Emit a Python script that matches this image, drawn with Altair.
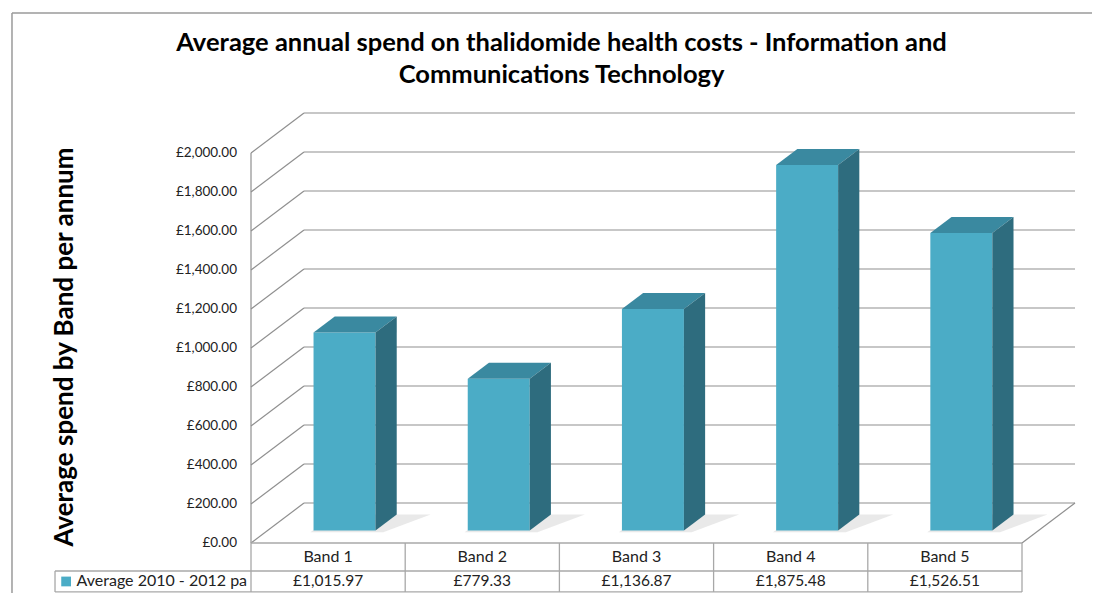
import altair as alt
import pandas as pd

# ---------------- data ----------------
bands = ["Band 1", "Band 2", "Band 3", "Band 4", "Band 5"]
spend = [1015.97, 779.33, 1136.87, 1875.48, 1526.51]
y_ticks = [0, 200, 400, 600, 800, 1000, 1200, 1400, 1600, 1800, 2000]
series_name = "Average 2010 - 2012 pa"
title_lines = ["Average annual spend on thalidomide health costs - Information and",
               "Communications Technology"]
y_title = "Average spend by Band per annum"

# ---------------- 3D projection settings (scale units) ----------------
DX = 0.3437        # wall depth along x (category units)
DY = 205.0         # wall depth along y (value units)
BAR_POS = 0.31     # bar placement inside the depth
BAR_DEPTH = 0.40   # bar thickness as share of the depth
BAR_HALF = 0.201   # half bar width (category units)
ROW1 = -143.6      # boundary between header row and value row
ROW2 = -251.0      # bottom of table
LEG_X = -1.271     # left edge of legend cell
FRAME_X = -1.55    # outer frame left edge
FRAME_Y = 2718.0   # outer frame top edge
TICK_X = -0.091    # right edge of the value-axis labels
YTITLE_X = -1.206  # centre of the value-axis title
N = len(bands)

FRONT = "#4BACC6"
TOP = "#3A89A0"
SIDE = "#2E6C7E"
GRID = "#b4b4b4"
LINE = "#8f8f8f"
TABLE = "#a8a8a8"
FONT = "Lato"

fx, fy = BAR_POS * DX, BAR_POS * DY
bx, by = BAR_DEPTH * DX, BAR_DEPTH * DY

# plot area: screen x 239..1092, y 13..593 (1 category = 154.2 px, 1 value unit = 0.195 px)
XMIN, XMAX = -12 / 154.2, 841 / 154.2
YMIN, YMAX = -50 / 0.195, 530 / 0.195
XS = alt.Scale(domain=[XMIN, XMAX], nice=False, zero=False)
YS = alt.Scale(domain=[YMIN, YMAX], nice=False, zero=False)

# bar faces
front_rows, top_rows, side_rows, shadow_rows = [], [], [], []
for i, (b, v) in enumerate(zip(bands, spend)):
    x0 = i + 0.5 - BAR_HALF + fx
    x1 = i + 0.5 + BAR_HALF + fx
    front_rows.append(dict(band=b, x0=x0, x1=x1, y0=fy, y1=v + fy))
    top_rows.append(dict(band=b, y=v + fy, xa=x0, xb=x1))
    top_rows.append(dict(band=b, y=v + fy + by, xa=x0 + bx, xb=x1 + bx))
    side_rows.append(dict(band=b, x=x1, ya=fy, yb=v + fy))
    side_rows.append(dict(band=b, x=x1 + bx, ya=fy + by, yb=v + fy + by))
    shadow_rows.append(dict(band=b, y=fy - 8, xa=x0 - 0.02, xb=x1 + 0.05))
    shadow_rows.append(dict(band=b, y=fy + by, xa=x0 + bx, xb=x1 + bx + 0.22))
front = pd.DataFrame(front_rows)
top = pd.DataFrame(top_rows)
side = pd.DataFrame(side_rows)
shadow = pd.DataFrame(shadow_rows)

# back wall grid and left-wall diagonals
grid = pd.DataFrame(dict(x=[DX] * len(y_ticks), x2=[N + DX] * len(y_ticks),
                         y=[t + DY for t in y_ticks]))
diag = pd.DataFrame(dict(x=[0.0] * len(y_ticks) + [N], x2=[DX] * len(y_ticks) + [N + DX],
                         y=list(y_ticks) + [0], y2=[t + DY for t in y_ticks] + [DY]))
axis_line = pd.DataFrame(dict(x=[0.0], y=[0.0], y2=[max(y_ticks)]))
tick_df = pd.DataFrame(dict(t=y_ticks))

# outer frame (top and left edges)
frame_h = pd.DataFrame(dict(x=[FRAME_X], x2=[XMAX + 1], y=[FRAME_Y]))
frame_v = pd.DataFrame(dict(x=[FRAME_X], y=[FRAME_Y], y2=[YMIN - 100]))

# data table lines
hlines = pd.DataFrame(dict(x=[0.0, LEG_X, LEG_X], x2=[N, N, N], y=[0.0, ROW1, ROW2]))
vlines = pd.DataFrame(dict(x=[float(i) for i in range(N + 1)] + [LEG_X],
                           y=[0.0] * (N + 1) + [ROW1], y2=[ROW2] * (N + 2)))
labels = pd.DataFrame(dict(band=bands, xc=[i + 0.5 for i in range(N)], spend=spend))
legend = pd.DataFrame(dict(name=[series_name], xs=[LEG_X + 0.072], xt=[LEG_X + 0.14],
                           y=[(ROW1 + ROW2) / 2]))
ytitle_df = pd.DataFrame(dict(name=[y_title], x=[YTITLE_X], y=[max(y_ticks) / 2 + 5]))


def X(f):
    return alt.X(f, scale=XS, axis=None)


def Y(f):
    return alt.Y(f, scale=YS, axis=None)


fr_h = alt.Chart(frame_h).mark_rule(color="#9a9a9a", strokeWidth=1.5).encode(
    x=X("x:Q"), x2="x2:Q", y=Y("y:Q"))
fr_v = alt.Chart(frame_v).mark_rule(color="#9a9a9a", strokeWidth=1.5).encode(
    x=X("x:Q"), y=Y("y:Q"), y2="y2:Q")
gridl = alt.Chart(grid).mark_rule(color=GRID, strokeWidth=1.6).encode(
    x=X("x:Q"), x2="x2:Q", y=Y("y:Q"))
diagl = alt.Chart(diag).mark_rule(color=LINE, strokeWidth=1.2).encode(
    x=X("x:Q"), x2="x2:Q", y=Y("y:Q"), y2="y2:Q")
axl = alt.Chart(axis_line).mark_rule(color=LINE, strokeWidth=1.2).encode(
    x=X("x:Q"), y=Y("y:Q"), y2="y2:Q")
tick_txt = alt.Chart(tick_df).mark_text(font=FONT, fontSize=13.5, color="#222222",
                                        align="right", baseline="middle").encode(
    x=X("tx:Q"), y=Y("t:Q"), text="lab:N"
).transform_calculate(tx=str(TICK_X), lab="'£' + format(datum.t, ',.2f')")
ytitle = alt.Chart(ytitle_df).mark_text(font=FONT, fontSize=26, fontWeight="bold",
                                        color="#000000", angle=270, align="center",
                                        baseline="middle").encode(
    x=X("x:Q"), y=Y("y:Q"), text="name:N")

shad = alt.Chart(shadow).mark_area(orient="horizontal", color="#9a9a9a", opacity=0.22).encode(
    y=Y("y:Q"), x=X("xa:Q"), x2="xb:Q", detail="band:N")
frontl = alt.Chart(front).mark_rect(color=FRONT).encode(
    x=X("x0:Q"), x2="x1:Q", y=Y("y0:Q"), y2="y1:Q")
topl = alt.Chart(top).mark_area(orient="horizontal", color=TOP).encode(
    y=Y("y:Q"), x=X("xa:Q"), x2="xb:Q", detail="band:N")
sidel = alt.Chart(side).mark_area(orient="vertical", color=SIDE).encode(
    x=X("x:Q"), y=Y("ya:Q"), y2="yb:Q", detail="band:N")

hl = alt.Chart(hlines).mark_rule(color=TABLE, strokeWidth=1.3).encode(
    x=X("x:Q"), x2="x2:Q", y=Y("y:Q"))
vl = alt.Chart(vlines).mark_rule(color=TABLE, strokeWidth=1.3).encode(
    x=X("x:Q"), y=Y("y:Q"), y2="y2:Q")

band_txt = alt.Chart(labels).mark_text(font=FONT, fontSize=16, color="#222222").encode(
    x=X("xc:Q"), y=Y("ly:Q"), text="band:N"
).transform_calculate(ly=str(ROW1 / 2))
val_txt = alt.Chart(labels).mark_text(font=FONT, fontSize=15.5, color="#222222").encode(
    x=X("xc:Q"), y=Y("ly:Q"), text="lab:N"
).transform_calculate(ly=str((ROW1 + ROW2) / 2), lab="'£' + format(datum.spend, ',.2f')")
leg_sq = alt.Chart(legend).mark_point(shape="square", filled=True, size=95, color=FRONT,
                                      opacity=1).encode(x=X("xs:Q"), y=Y("y:Q"))
leg_txt = alt.Chart(legend).mark_text(font=FONT, fontSize=16, color="#222222",
                                      align="left").encode(
    x=X("xt:Q"), y=Y("y:Q"), text="name:N")

chart = alt.layer(fr_h, fr_v, gridl, diagl, axl, tick_txt, ytitle, shad, frontl, topl, sidel,
                  hl, vl, band_txt, val_txt, leg_sq, leg_txt).properties(
    width=853, height=580,
    autosize=alt.AutoSizeParams(type="none"),
    padding={"left": 231, "top": 5, "right": 0, "bottom": 0},
    title=alt.TitleParams(text=title_lines, anchor="middle", font=FONT, fontSize=25.5,
                          fontWeight="bold", lineHeight=32, offset=-76.5, dx=-104,
                          color="#000000"),
).configure_view(stroke=None)

chart.save("out.html", embed_options={"renderer": "svg", "actions": False})
